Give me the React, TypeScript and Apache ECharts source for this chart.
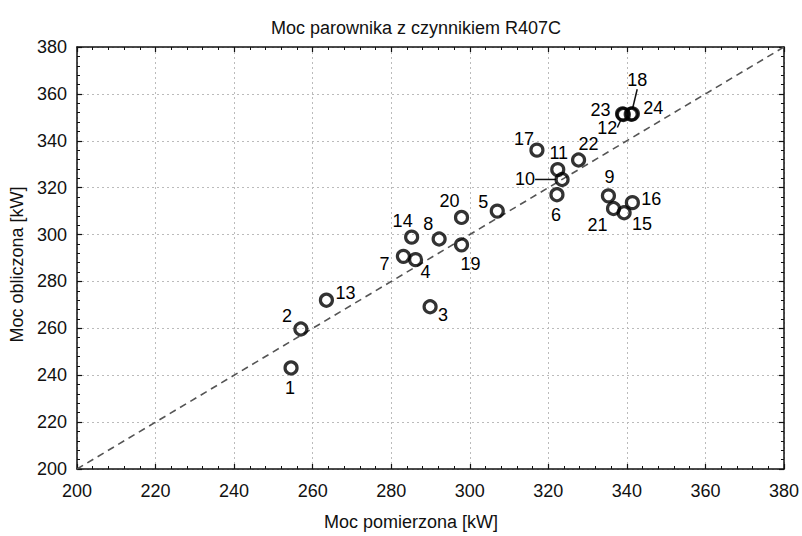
import React, { useEffect, useRef } from "react";
import * as echarts from "echarts";

const pointIds = ["1","2","3","4","5","6","7","8","9","10","11","12","13","14","15","16","17","18","19","20","21","22","23","24"];
const measured = [254.5, 257.0, 289.9, 286.2, 307.0, 322.2, 283.1, 292.2, 335.3, 323.5, 322.4, 339.1, 263.5, 285.2, 339.3, 341.4, 317.1, 341.1, 297.9, 297.9, 336.6, 327.7, 338.9, 341.4];
const computed = [243.1, 259.7, 269.2, 289.3, 310.0, 317.0, 290.7, 298.1, 316.5, 323.5, 327.7, 351.2, 272.0, 298.9, 309.3, 313.6, 336.0, 351.3, 295.6, 307.3, 311.1, 331.8, 351.5, 351.5];
const diagonal = [200, 380];
const axisMin = 200;
const axisMax = 380;
const axisStep = 20;

const titleText = "Moc parownika z czynnikiem R407C";
const xName = "Moc pomierzona [kW]";
const yName = "Moc obliczona [kW]";

// label offsets in pixels (style), keyed by point id
const labelOffsets: Record<string, [number, number]> = {
  "1": [-1, 20], "2": [-14, -13], "3": [13, 8], "4": [10, 12], "5": [-14, -9],
  "6": [-1, 20], "7": [-19, 8], "8": [-11, -15], "9": [1, -19], "10": [-37, 0],
  "11": [1, -17], "12": [-16, 13], "13": [19, -7], "14": [-9, -16], "15": [18, 11],
  "16": [19, -4], "17": [-13, -11], "18": [6, -34], "19": [9, 19], "20": [-12, -16],
  "21": [-16, 16], "22": [10, -16], "23": [-22, -4], "24": [21, -6],
};
const withLeader = ["10", "12", "18"];

const FONT = "'Liberation Sans', Arial, sans-serif";

export default function App() {
  const ref = useRef<HTMLDivElement>(null);
  useEffect(() => {
    if (!ref.current) return;
    const chart = echarts.init(ref.current, undefined, { renderer: "svg" });
    const axisCommon = {
      type: "value",
      min: axisMin,
      max: axisMax,
      interval: axisStep,
      axisLine: { show: true, lineStyle: { color: "#111", width: 1.5 } },
      axisTick: { show: true, inside: true, length: 5, lineStyle: { color: "#111", width: 1.2 } },
      minorTick: { show: true, splitNumber: 5, length: 3, lineStyle: { color: "#111", width: 1 } },
    };
    const pts = measured.map((x, i) => ({
      value: [x, computed[i]],
      name: pointIds[i],
      labelLine: { show: withLeader.includes(pointIds[i]) },
    }));
    chart.setOption({
      animation: false,
      backgroundColor: "#fff",
      textStyle: { fontFamily: FONT },
      title: {
        text: titleText,
        left: 266,
        top: 14,
        textStyle: { fontFamily: FONT, fontSize: 18, fontWeight: "normal", color: "#111" },
      },
      grid: { left: 77, right: 16, top: 47, bottom: 63, containLabel: false },
      xAxis: [
        {
          ...axisCommon,
          position: "bottom",
          name: xName,
          nameLocation: "middle",
          nameGap: 44,
          nameTextStyle: { fontFamily: FONT, fontSize: 18, color: "#111", padding: [0, 39, 0, 0] },
          axisLabel: { fontFamily: FONT, fontSize: 18, color: "#111", margin: 13 },
          splitLine: { show: true, lineStyle: { color: "#bbb", type: [2, 3], width: 1 } },
        },
        {
          ...axisCommon,
          position: "top",
          axisLabel: { show: false },
          splitLine: { show: false },
        },
      ],
      yAxis: [
        {
          ...axisCommon,
          position: "left",
          name: yName,
          nameLocation: "middle",
          nameGap: 49,
          nameTextStyle: { fontFamily: FONT, fontSize: 18, color: "#111", padding: [0, 13, 0, 0] },
          axisLabel: { fontFamily: FONT, fontSize: 18, color: "#111", margin: 10 },
          splitLine: { show: true, lineStyle: { color: "#bbb", type: [2, 3], width: 1 } },
        },
        {
          ...axisCommon,
          position: "right",
          axisLabel: { show: false },
          splitLine: { show: false },
        },
      ],
      series: [
        {
          type: "line",
          data: diagonal.map((v) => [v, v]),
          xAxisIndex: 0,
          yAxisIndex: 0,
          symbol: "none",
          lineStyle: { color: "#555", width: 1.6, type: [7, 5] },
          silent: true,
          z: 1,
        },
        {
          type: "scatter",
          data: pts,
          xAxisIndex: 0,
          yAxisIndex: 0,
          symbol: "circle",
          symbolSize: 12,
          itemStyle: { color: "rgba(0,0,0,0)", borderColor: "#000", borderWidth: 3.2 },
          label: {
            show: true,
            position: "inside",
            formatter: (p: any) => p.name,
            fontFamily: FONT,
            fontSize: 18,
            color: "#000",
            opacity: 1,
            textBorderWidth: 0,
          },
          labelLayout: (p: any) => {
            const id = pointIds[p.dataIndex];
            const o = labelOffsets[id] || [0, 0];
            return { dx: o[0], dy: o[1] };
          },
          labelLine: { show: false, lineStyle: { color: "#111", width: 1.5 } },
          z: 3,
        },
      ],
    });
    return () => chart.dispose();
  }, []);
  return (
    <div
      ref={ref}
      style={{ position: "absolute", left: 0, top: 0, width: 802, height: 536 }}
    />
  );
}
